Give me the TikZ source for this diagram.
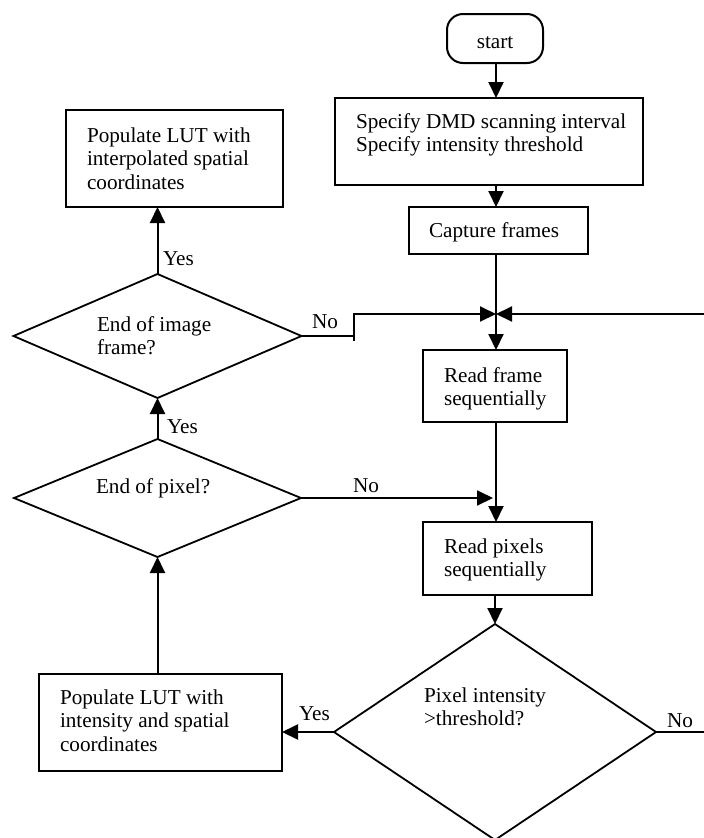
\documentclass[tikz,border=0pt]{standalone}
\usepackage{fontspec}
\setmainfont{Liberation Serif}
\usetikzlibrary{shapes.geometric,arrows.meta}
\begin{document}
\begin{tikzpicture}[x=1pt,y=-1pt,
  font=\fontsize{21.2}{23.5}\selectfont,
  line width=2pt,
  box/.style={draw, rectangle, inner sep=0pt, outer sep=0pt},
  terminal/.style={draw, rectangle, rounded corners=16pt, inner sep=0pt, outer sep=0pt},
  decision/.style={draw, diamond, inner sep=0pt, outer sep=0pt, line width=1.8pt},
  txt/.style={anchor=west, align=left, inner sep=0pt, outer sep=0pt},
  lbl/.style={anchor=base west, inner sep=0pt, outer sep=0pt},
  flow/.style={-{Triangle[length=16pt,width=15pt]}}
]
\useasboundingbox (0,0) rectangle (704,838);

% ---- shapes ----
\node[terminal, minimum width=96pt,  minimum height=49pt]  (start)     at (495,38.5)   {};
\node[box,      minimum width=308pt, minimum height=87pt]  (spec)      at (489,141.5)  {};
\node[box,      minimum width=179pt, minimum height=47pt]  (capture)   at (498.5,230.5){};
\node[box,      minimum width=144pt, minimum height=72pt]  (readframe) at (495,386)    {};
\node[box,      minimum width=169pt, minimum height=73pt]  (readpix)   at (507.5,558.5){};
\node[box,      minimum width=217pt, minimum height=97pt]  (popA)      at (174.5,158.5){};
\node[box,      minimum width=243pt, minimum height=97pt]  (popB)      at (160.5,722.5){};
\node[decision, minimum width=288pt, minimum height=124pt] (endimg)    at (157.5,336)  {};
\node[decision, minimum width=287pt, minimum height=118pt] (endpix)    at (157.5,498)  {};
\node[decision, minimum width=322pt, minimum height=216pt] (thresh)    at (495,732)    {};

% ---- texts ----
\node[anchor=base, inner sep=0pt] (startT) at (495,48) {start};
\node[txt] (specT)      at (356,135.05) {\strut Specify DMD scanning interval\\\strut Specify intensity threshold};
\node[txt] (captureT)   at (429,232.3)  {\strut Capture frames};
\node[txt] (readframeT) at (444,389.05) {\strut Read frame\\\strut sequentially};
\node[txt] (readpixT)   at (444,560.05) {\strut Read pixels\\\strut sequentially};
\node[txt] (popAT)      at (87,160.8)   {\strut Populate LUT with\\\strut interpolated spatial\\\strut coordinates};
\node[txt] (popBT)      at (60,722.8)   {\strut Populate LUT with\\\strut intensity and spatial\\\strut coordinates};
\node[txt] (endimgT)    at (97,338.05)  {\strut End of image\\\strut frame?};
\node[txt] (endpixT)    at (96,488.3)   {\strut End of pixel?};
\node[txt] (threshT)    at (424,709.05) {\strut Pixel intensity\\\strut >threshold?};

% ---- branch labels ----
\node[lbl] (yesA) at (163,265) {Yes};
\node[lbl] (yesB) at (167,433) {Yes};
\node[lbl] (noA)  at (312,328) {No};
\node[lbl] (noB)  at (353,492) {No};
\node[lbl] (yesC) at (299,720) {Yes};
\node[lbl] (noC)  at (667,727) {No};

% ---- connectors ----
\coordinate (J) at (496,314);
\coordinate (loopR) at (704,314);
\coordinate (bendA) at (354,336);
\coordinate (bendB) at (354,341);
\coordinate (exitR) at (704,732);

\draw[flow] (start.south -| J) -- (spec.north -| J);
\draw[flow] (spec.south -| J) -- (capture.north -| J);
\draw (capture.south -| J) -- (J);
\draw[flow] (loopR) -- (J);
\draw (endimg.east) -- (bendA);
\draw[flow] (bendB) -- (bendB |- J) -- (J);
\draw[flow] (J) -- (readframe.north -| J);
\draw[flow] (readframe.south -| J) -- (readpix.north -| J);
\draw[flow, shorten >=3pt] (endpix.east) -- (endpix.east -| J);
\draw[flow] (readpix.south -| thresh.north) -- (thresh.north);
\draw[flow] (thresh.west) -- (thresh.west -| popB.east);
\draw (thresh.east) -- (exitR);
\draw[flow] (popB.north -| endpix.south) -- (endpix.south);
\draw[flow] (endpix.north) -- (endimg.south);
\draw[flow] (endimg.north) -- (popA.south -| endimg.north);
\end{tikzpicture}
\end{document}
